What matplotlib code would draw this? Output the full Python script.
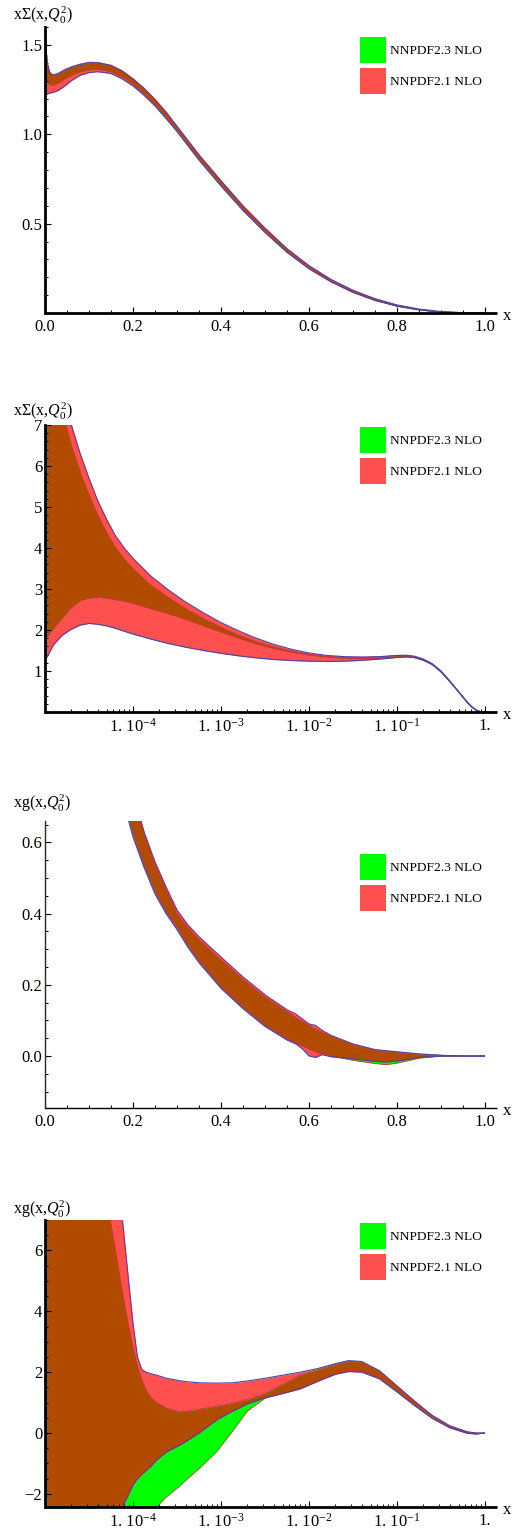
import numpy as np
import matplotlib
matplotlib.use('Agg')
import matplotlib.pyplot as plt
from matplotlib.patches import Rectangle
from matplotlib.ticker import FixedLocator, FixedFormatter, MultipleLocator, NullFormatter, LogLocator

plt.rcParams['font.family'] = ['Liberation Serif', 'DejaVu Serif']
plt.rcParams['mathtext.fontset'] = 'custom'
plt.rcParams['mathtext.rm'] = 'Liberation Serif'
plt.rcParams['mathtext.it'] = 'Liberation Serif:italic'

GREEN = '#00ff00'
RED = '#ff5050'
BROWN = '#b04b00'
EDGE21 = '#4a44a8'
EDGE23 = '#e0284a'
LABELS = ['NNPDF2.3 NLO', 'NNPDF2.1 NLO']

# ---- panel 1: x Sigma, linear x
x1 = [0.0, 0.002, 0.005, 0.01, 0.015, 0.02, 0.03, 0.045, 0.06, 0.08, 0.1, 0.12, 0.15, 0.175,
      0.2, 0.225, 0.25, 0.275, 0.3, 0.35, 0.4, 0.45, 0.5, 0.55, 0.6, 0.65, 0.7, 0.75, 0.8, 0.85,
      0.9, 0.95, 1.0]
hi21_1 = [1.66, 1.50, 1.40, 1.35, 1.335, 1.333, 1.34, 1.36, 1.375, 1.39, 1.40, 1.40, 1.385, 1.355,
          1.31, 1.258, 1.195, 1.125, 1.045, 0.885, 0.74, 0.60, 0.475, 0.36, 0.265, 0.188, 0.127,
          0.08, 0.045, 0.022, 0.008, 0.002, 0.0]
hi23_1 = [1.66, 1.50, 1.40, 1.35, 1.334, 1.332, 1.34, 1.362, 1.378, 1.393, 1.403, 1.402, 1.386,
          1.355, 1.31, 1.256, 1.193, 1.123, 1.043, 0.883, 0.738, 0.598, 0.473, 0.358, 0.263, 0.186,
          0.126, 0.079, 0.044, 0.021, 0.007, 0.002, 0.0]
lo23_1 = [1.31, 1.30, 1.29, 1.28, 1.275, 1.275, 1.285, 1.31, 1.33, 1.35, 1.36, 1.365, 1.35, 1.322,
          1.28, 1.228, 1.165, 1.095, 1.02, 0.86, 0.715, 0.578, 0.455, 0.343, 0.25, 0.176, 0.117,
          0.072, 0.039, 0.018, 0.006, 0.001, 0.0]
lo21_1 = [1.22, 1.222, 1.225, 1.23, 1.232, 1.235, 1.245, 1.27, 1.30, 1.33, 1.345, 1.35, 1.34, 1.31,
          1.27, 1.218, 1.158, 1.088, 1.015, 0.855, 0.71, 0.573, 0.45, 0.339, 0.247, 0.174, 0.115,
          0.07, 0.038, 0.017, 0.005, 0.001, 0.0]

# ---- panel 2: x Sigma, log x (exponents of x)
logx2 = [-5, -4.9, -4.8, -4.7, -4.6, -4.5, -4.4, -4.3, -4.2, -4.1, -4.0, -3.8, -3.6, -3.4,
         -3.2, -3.0, -2.8, -2.6, -2.4, -2.2, -2.0, -1.8, -1.6, -1.4, -1.2, -1.0, -0.9, -0.8,
         -0.7, -0.6, -0.5, -0.4, -0.3, -0.2, -0.15, -0.1, -0.05, 0]
hi21_2 = [10.5, 9.0, 7.9, 7.0, 6.3, 5.7, 5.15, 4.7, 4.3, 4.0, 3.75, 3.32, 2.98, 2.68,
          2.42, 2.18, 1.98, 1.8, 1.65, 1.53, 1.44, 1.38, 1.35, 1.34, 1.35, 1.38, 1.385, 1.36,
          1.29, 1.18, 1.0, 0.76, 0.5, 0.24, 0.13, 0.05, 0.01, 0.0]
hi23_2 = [9.6, 8.3, 7.3, 6.5, 5.85, 5.3, 4.8, 4.38, 4.02, 3.73, 3.5, 3.1, 2.8, 2.52,
          2.28, 2.07, 1.88, 1.72, 1.59, 1.49, 1.41, 1.36, 1.34, 1.335, 1.345, 1.375, 1.38, 1.355,
          1.285, 1.175, 0.995, 0.755, 0.495, 0.235, 0.125, 0.048, 0.01, 0.0]
lo23_2 = [1.76, 2.05, 2.3, 2.55, 2.72, 2.78, 2.8, 2.78, 2.74, 2.7, 2.65, 2.52, 2.4, 2.26,
          2.1, 1.95, 1.8, 1.66, 1.55, 1.46, 1.39, 1.34, 1.31, 1.30, 1.31, 1.34, 1.35, 1.33,
          1.265, 1.16, 0.98, 0.745, 0.49, 0.23, 0.12, 0.045, 0.008, 0.0]
lo21_2 = [1.25, 1.65, 1.88, 2.02, 2.12, 2.16, 2.14, 2.1, 2.04, 1.97, 1.9, 1.78, 1.67, 1.58,
          1.5, 1.43, 1.37, 1.32, 1.28, 1.255, 1.24, 1.235, 1.24, 1.26, 1.29, 1.33, 1.345, 1.325,
          1.26, 1.155, 0.975, 0.74, 0.485, 0.225, 0.118, 0.043, 0.007, 0.0]

# ---- panel 3: x g, linear x
x3 = [0.15, 0.175, 0.2, 0.225, 0.25, 0.275, 0.3, 0.325, 0.35, 0.4, 0.45, 0.5, 0.55, 0.57,
      0.585, 0.6, 0.615, 0.63, 0.65, 0.7, 0.75, 0.775, 0.8, 0.85, 0.9, 0.95, 1.0]
hi23_3 = [1.04, 0.87, 0.73, 0.622, 0.537, 0.467, 0.40, 0.36, 0.327, 0.27, 0.215, 0.166,
          0.125, 0.108, 0.097, 0.086, 0.076, 0.067, 0.056, 0.032, 0.017, 0.014, 0.011, 0.005,
          0.002, 0.0, 0.0]
hi21_3 = [1.05, 0.88, 0.74, 0.63, 0.545, 0.475, 0.41, 0.368, 0.335, 0.278, 0.222, 0.172,
          0.13, 0.118, 0.104, 0.09, 0.086, 0.072, 0.058, 0.034, 0.018, 0.015, 0.012, 0.006,
          0.002, 0.0, 0.0]
lo23_3 = [0.88, 0.74, 0.62, 0.535, 0.46, 0.405, 0.36, 0.31, 0.266, 0.193, 0.136, 0.086,
          0.048, 0.036, 0.028, 0.02, 0.012, 0.006, 0.0, -0.012, -0.021, -0.024, -0.02, -0.006,
          0.0, 0.0, 0.0]
lo21_3 = [0.87, 0.73, 0.615, 0.53, 0.455, 0.40, 0.355, 0.305, 0.262, 0.19, 0.133, 0.083,
          0.045, 0.034, 0.02, 0.0, -0.004, 0.004, -0.002, -0.008, -0.015, -0.017, -0.014,
          -0.004, 0.0, 0.0, 0.0]

# ---- panel 4: x g, log x (exponents of x)
logx4 = [-5, -4.6, -4.4, -4.26, -4.2, -4.12, -4.05, -4.0, -3.95, -3.9, -3.85, -3.8, -3.73,
         -3.62, -3.47, -3.4, -3.24, -3.05, -2.87, -2.7, -2.5, -2.3, -2.1, -1.9, -1.7, -1.55,
         -1.4, -1.2, -1.0, -0.8, -0.6, -0.4, -0.2, -0.1, 0]
hi21_4 = [30, 16, 11, 8.6, 7.7, 7.0, 5.0, 3.6, 2.5, 2.08, 2.0, 1.95, 1.9,
          1.8, 1.72, 1.69, 1.65, 1.64, 1.65, 1.71, 1.8, 1.9, 2.0, 2.12, 2.28, 2.38,
          2.35, 2.05, 1.55, 1.05, 0.58, 0.24, 0.04, 0.0, 0.0]
hi23_4 = [25, 13, 9.2, 7.0, 6.0, 4.6, 3.5, 2.8, 2.2, 1.75, 1.4, 1.18, 1.0,
          0.82, 0.7, 0.71, 0.79, 0.88, 0.98, 1.1, 1.3, 1.6, 1.9, 2.08, 2.25, 2.36,
          2.33, 2.03, 1.53, 1.03, 0.57, 0.23, 0.035, 0.0, 0.0]
lo23_4 = [-30, -15, -10, -7.5, -6.5, -5.5, -4.7, -4.2, -3.7, -3.3, -3.0, -2.75, -2.43,
          -2.1, -1.75, -1.56, -1.15, -0.62, 0.05, 0.72, 1.14, 1.3, 1.46, 1.72, 1.95, 2.05,
          2.03, 1.8, 1.37, 0.92, 0.5, 0.18, -0.005, -0.025, 0.0]
lo21_4 = [-20, -9, -5.5, -3.6, -3.0, -2.43, -2.0, -1.7, -1.5, -1.35, -1.23, -1.1, -0.88,
          -0.62, -0.4, -0.28, 0.02, 0.43, 0.72, 0.96, 1.16, 1.3, 1.45, 1.7, 1.93, 2.02,
          2.0, 1.78, 1.35, 0.9, 0.48, 0.17, -0.01, -0.03, 0.0]

W, H = 516, 1528
fig = plt.figure(figsize=(W / 100, H / 100), dpi=100)


def add_axes(top, bottom):
    return fig.add_axes([45 / W, 1 - bottom / H, 440 / W, (bottom - top) / H])


def bands(ax, x, lo23, hi23, lo21, hi21):
    x = np.asarray(x, dtype=float)
    lo23, hi23, lo21, hi21 = [np.asarray(a, dtype=float) for a in (lo23, hi23, lo21, hi21)]
    ax.fill_between(x, lo21, hi21, color=RED, lw=0)
    ax.fill_between(x, lo23, hi23, color=GREEN, lw=0)
    lo = np.maximum(lo21, lo23)
    hi = np.minimum(hi21, hi23)
    ax.fill_between(x, lo, hi, where=hi > lo, interpolate=True, color=BROWN, lw=0)
    ax.plot(x, hi23, color=EDGE23, lw=0.6)
    ax.plot(x, lo23, color=EDGE23, lw=0.6)
    ax.plot(x, hi21, color=EDGE21, lw=0.8)
    ax.plot(x, lo21, color=EDGE21, lw=0.8)


def style(ax, ylim, ylabel, label_dy, lw=2.0, spine_color='black'):
    ax.set_ylim(*ylim)
    for s in ['top', 'right', 'bottom']:
        ax.spines[s].set_visible(False)
    ax.spines['left'].set_linewidth(lw)
    ax.spines['left'].set_color(spine_color)
    ax.plot([0, 1.027], [0, 0], transform=ax.transAxes, clip_on=False, color='black',
            lw=lw, solid_capstyle='butt', zorder=5)
    ax.tick_params(which='major', direction='in', length=4, width=0.8, labelsize=12,
                   color='black')
    ax.tick_params(which='minor', direction='in', length=2.2, width=0.7, color='black')
    ax.tick_params(axis='x', pad=4)
    ax.tick_params(axis='y', pad=2)
    ax.text(1.05, -0.011, 'x', transform=ax.transAxes, ha='center', va='center', fontsize=12)
    ax.text(-32 / 440, 1 + label_dy / 287, ylabel, transform=ax.transAxes,
            ha='left', va='center', fontsize=11.5)
    ax.set_facecolor('none')


def lin_x(ax):
    ax.set_xlim(0, 1)
    ax.xaxis.set_major_locator(FixedLocator([0, 0.2, 0.4, 0.6, 0.8, 1.0]))
    ax.xaxis.set_major_formatter(FixedFormatter(['0.0', '0.2', '0.4', '0.6', '0.8', '1.0']))
    ax.xaxis.set_minor_locator(MultipleLocator(0.05))


def log_x(ax):
    ax.set_xscale('log')
    ax.set_xlim(1e-5, 1)
    ax.xaxis.set_major_locator(FixedLocator([1e-4, 1e-3, 1e-2, 1e-1, 1.0]))
    ax.xaxis.set_major_formatter(FixedFormatter(
        [r'$1.\,10^{-4}$', r'$1.\,10^{-3}$', r'$1.\,10^{-2}$', r'$1.\,10^{-1}$', '1.']))
    ax.xaxis.set_minor_locator(LogLocator(base=10, subs=np.arange(2, 10), numticks=20))
    ax.xaxis.set_minor_formatter(NullFormatter())


def legend(top):
    for i, (col, lab) in enumerate(zip([GREEN, RED], LABELS)):
        y0 = top + 31 * i
        fig.add_artist(Rectangle((360 / W, 1 - (y0 + 26) / H), 26 / W, 26 / H,
                                 transform=fig.transFigure, color=col, lw=0))
        fig.text(390 / W, 1 - (y0 + 14) / H, lab, ha='left', va='center', fontsize=9.7)


sigma_label = 'xΣ(x,' + r'$Q_0^2$' + ')'
gluon_label = 'xg(x,' + r'$Q_0^2$' + ')'

ax1 = add_axes(27, 313)
bands(ax1, x1, lo23_1, hi23_1, lo21_1, hi21_1)
lin_x(ax1)
style(ax1, (0, 1.6), sigma_label, 12)
ax1.yaxis.set_major_locator(FixedLocator([0.5, 1.0, 1.5]))
ax1.yaxis.set_major_formatter(FixedFormatter(['0.5', '1.0', '1.5']))
ax1.yaxis.set_minor_locator(MultipleLocator(0.1))
legend(37)

ax2 = add_axes(425, 712)
bands(ax2, 10.0 ** np.array(logx2), lo23_2, hi23_2, lo21_2, hi21_2)
log_x(ax2)
style(ax2, (0, 7), sigma_label, 14)
ax2.yaxis.set_major_locator(FixedLocator([1, 2, 3, 4, 5, 6, 7]))
ax2.yaxis.set_major_formatter(FixedFormatter(['1', '2', '3', '4', '5', '6', '7']))
ax2.yaxis.set_minor_locator(MultipleLocator(0.2))
legend(427)

ax3 = add_axes(821, 1108)
bands(ax3, x3, lo23_3, hi23_3, lo21_3, hi21_3)
lin_x(ax3)
style(ax3, (-0.146, 0.66), gluon_label, 18, lw=1.0, spine_color='#4a1a1a')
ax3.yaxis.set_major_locator(FixedLocator([0.0, 0.2, 0.4, 0.6]))
ax3.yaxis.set_major_formatter(FixedFormatter(['0.0', '0.2', '0.4', '0.6']))
ax3.yaxis.set_minor_locator(MultipleLocator(0.05))
legend(854)

ax4 = add_axes(1220, 1507)
bands(ax4, 10.0 ** np.array(logx4), lo23_4, hi23_4, lo21_4, hi21_4)
log_x(ax4)
style(ax4, (-2.43, 7), gluon_label, 11)
ax4.yaxis.set_major_locator(FixedLocator([-2, 0, 2, 4, 6]))
ax4.yaxis.set_major_formatter(FixedFormatter(['\u22122', '0', '2', '4', '6']))
ax4.yaxis.set_minor_locator(MultipleLocator(0.5))
legend(1223)

fig.savefig('out.png', dpi=100)
